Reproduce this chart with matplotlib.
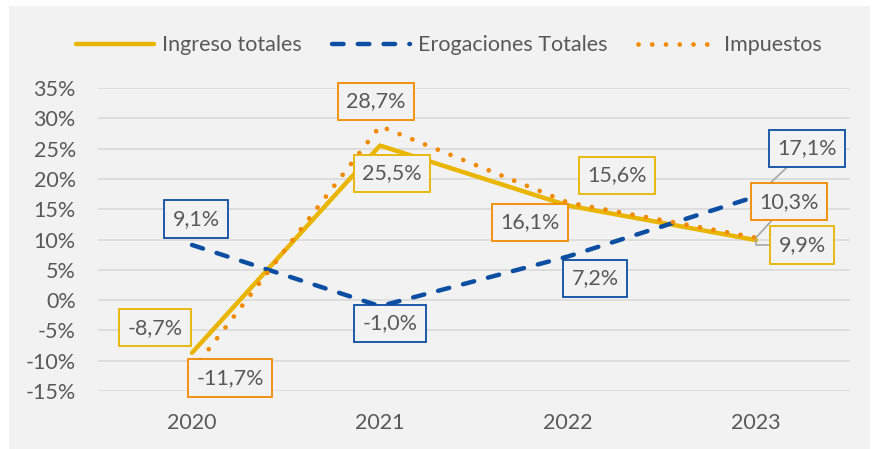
import numpy as np
import matplotlib.pyplot as plt
from matplotlib.patches import Rectangle

years = ['2020', '2021', '2022', '2023']
ingreso = [-8.7, 25.5, 15.6, 9.9]
erogaciones = [9.1, -1.0, 7.2, 17.1]
impuestos = [-11.7, 28.7, 16.1, 10.3]

c_ing = '#E9B500'
c_ero = '#0B4EA2'
c_imp = '#F18A00'
txt = '#595959'
bg = '#F2F2F2'

plt.rcParams['font.family'] = ['Lato', 'DejaVu Sans']
fs = 15.5

fig = plt.figure(figsize=(8.72, 4.49), dpi=100)
fig.patches.append(Rectangle((9 / 872, 0), 861 / 872, 443 / 449, transform=fig.transFigure,
                             facecolor=bg, edgecolor='none', zorder=-10))
ax = fig.add_axes([98 / 872, 1 - 391 / 449, 752 / 872, 303 / 449])
ax.set_facecolor(bg)
ax.patch.set_alpha(0)

x = np.arange(len(years))
ax.plot(x, ingreso, color=c_ing, lw=3.2, solid_capstyle='round', label='Ingreso totales', zorder=3)
ax.plot(x, erogaciones, color=c_ero, lw=3.2, linestyle=(0, (2.6, 3.2)), dash_capstyle='round',
        label='Erogaciones Totales', zorder=3)
ax.plot(x, impuestos, color=c_imp, lw=3.4, linestyle=(0, (0.01, 2.9)), dash_capstyle='round',
        label='Impuestos', zorder=4)

ax.set_xlim(-0.5, 3.5)
ax.set_ylim(-15, 35)
ax.set_yticks(np.arange(-15, 36, 5))
ax.set_yticklabels([f'{v}%' for v in range(-15, 36, 5)])
ax.set_xticks(x)
ax.set_xticklabels(years)
ax.grid(axis='y', color='#D9D9D9', lw=1.2)
ax.set_axisbelow(True)
for s in ax.spines.values():
    s.set_visible(False)
ax.tick_params(length=0, labelsize=fs, colors=txt)
ax.tick_params(axis='y', pad=16)
ax.tick_params(axis='x', pad=16)

# label offsets in pixels (dx, dy)
off_ing = [(-37, 25), (12, -28), (49, 30), (46, -5)]
off_ero = [(4, 26), (10, -17), (27, -22), (51, 48)]
off_imp = [(38, -7), (-4, 25), (-38, -20), (33, 36)]


def fmt(v):
    return f'{v:.1f}%'.replace('.', ',')


for vals, offs, col in [(ingreso, off_ing, c_ing), (erogaciones, off_ero, c_ero), (impuestos, off_imp, c_imp)]:
    for i, (v, o) in enumerate(zip(vals, offs)):
        ap = None
        if i == 3:
            ap = dict(arrowstyle='-', color='#A6A6A6', lw=1.2, shrinkA=0, shrinkB=0)
            if col == c_ing:
                ap['connectionstyle'] = 'angle,angleA=0,angleB=90,rad=0'
        ax.annotate(fmt(v), (i, v), xytext=o, textcoords='offset pixels', ha='center', va='center',
                    fontsize=fs, color=txt, zorder=6, arrowprops=ap,
                    bbox=dict(boxstyle='square,pad=0.4', facecolor=bg, edgecolor=col, lw=1.3))

fig.legend(loc='upper center', bbox_to_anchor=(0.515, 0.965), ncol=3, frameon=False, fontsize=fs,
           handlelength=3.6, columnspacing=1.4, handletextpad=0.4, labelcolor=txt)

fig.savefig('out.png', dpi=100)
